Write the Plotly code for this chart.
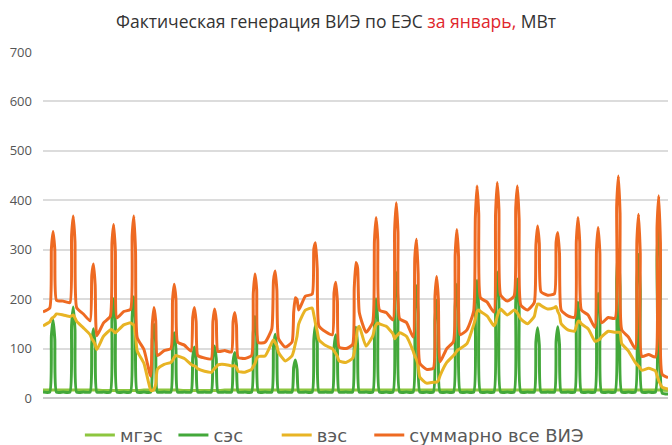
import plotly.graph_objects as go
from datetime import datetime, timedelta

# sample hours within each day of January
hours = [0, 8, 10, 12, 14, 16]
n_days = 31

# мгэс (small hydro), MW, one row per day at the hours above
mges = [
    [16, 16, 16, 16, 16, 16], [16, 16, 16, 16, 16, 16], [16, 16, 16, 16, 16, 16],
    [15, 15, 15, 15, 15, 15], [15, 15, 15, 15, 15, 15], [16, 16, 16, 16, 16, 16],
    [16, 16, 16, 16, 16, 16], [15, 15, 15, 15, 15, 15], [15, 15, 15, 15, 15, 15],
    [16, 16, 16, 16, 16, 16], [16, 16, 16, 16, 16, 16], [16, 16, 16, 16, 16, 16],
    [16, 16, 16, 16, 16, 16], [16, 16, 16, 16, 16, 16], [16, 16, 16, 16, 16, 16],
    [16, 16, 16, 16, 16, 16], [16, 16, 16, 16, 16, 16], [16, 16, 16, 16, 16, 16],
    [16, 16, 16, 16, 16, 16], [16, 16, 16, 16, 16, 16], [16, 16, 16, 16, 16, 16],
    [16, 16, 16, 16, 16, 16], [16, 16, 16, 16, 16, 16], [16, 16, 16, 16, 16, 16],
    [16, 16, 16, 16, 16, 16], [16, 16, 16, 16, 16, 16], [16, 16, 16, 16, 16, 16],
    [16, 16, 16, 16, 16, 16], [16, 16, 16, 16, 16, 16], [16, 16, 16, 16, 16, 16],
    [16, 16, 16, 16, 16, 16],
]

# сэс (solar)
ses = [
    [12, 12, 126, 158, 119, 12], [12, 12, 147, 184, 138, 12], [12, 12, 112, 140, 105, 12],
    [12, 12, 161, 201, 151, 12], [12, 12, 164, 205, 154, 12], [12, 12, 119, 149, 112, 12],
    [12, 12, 106, 132, 99, 12], [12, 12, 82, 103, 77, 12], [12, 12, 84, 105, 79, 12],
    [12, 12, 74, 92, 69, 12], [12, 12, 132, 165, 124, 12], [12, 12, 103, 129, 97, 12],
    [12, 12, 62, 77, 58, 12], [12, 12, 118, 148, 111, 12], [12, 12, 102, 128, 96, 12],
    [12, 12, 114, 143, 107, 12], [12, 12, 161, 201, 151, 12], [12, 12, 203, 254, 191, 12],
    [12, 12, 182, 227, 170, 12], [12, 12, 158, 198, 149, 12], [12, 12, 184, 230, 173, 12],
    [12, 12, 190, 238, 179, 12], [12, 12, 204, 255, 191, 12], [12, 12, 193, 241, 181, 12],
    [12, 12, 114, 142, 107, 12], [12, 12, 115, 144, 108, 12], [12, 12, 155, 194, 146, 12],
    [12, 12, 170, 212, 159, 12], [12, 12, 240, 300, 225, 12], [12, 12, 233, 291, 218, 12],
    [12, 12, 286, 358, 269, 10],
]

# вэс (wind)
ves = [
    [146, 154, 160, 163, 166, 170], [168, 165, 166, 168, 162, 155], [142, 128, 120, 115, 108, 98],
    [125, 138, 138, 135, 132, 135], [148, 152, 150, 148, 128, 95], [70, 16, 15, 18, 28, 58],
    [68, 72, 76, 82, 86, 85], [80, 68, 66, 65, 63, 59], [54, 52, 56, 60, 63, 67],
    [68, 65, 65, 65, 62, 54], [52, 58, 64, 70, 80, 84], [85, 112, 118, 112, 106, 92],
    [75, 85, 95, 110, 125, 150], [178, 182, 168, 150, 135, 118], [106, 100, 95, 90, 84, 75],
    [72, 80, 92, 115, 140, 145], [105, 125, 140, 148, 152, 150], [145, 130, 120, 125, 128, 132],
    [125, 95, 85, 78, 65, 42], [30, 32, 32, 32, 35, 45], [72, 86, 90, 95, 98, 100],
    [110, 148, 160, 175, 178, 175], [166, 146, 152, 165, 175, 180], [168, 178, 176, 172, 166, 160],
    [150, 165, 180, 190, 190, 187], [180, 183, 185, 175, 168, 150], [138, 135, 145, 155, 155, 150],
    [140, 115, 115, 117, 119, 124], [135, 133, 133, 133, 133, 110], [95, 72, 68, 65, 60, 56],
    [60, 55, 45, 35, 28, 22],
]

# суммарно все ВИЭ (total)
total = [
    [174, 182, 302, 337, 301, 198], [196, 193, 329, 368, 316, 183], [170, 156, 248, 271, 229, 126],
    [152, 165, 314, 351, 298, 162], [175, 179, 329, 368, 297, 122], [98, 44, 150, 183, 156, 86],
    [96, 100, 198, 230, 201, 113], [107, 95, 163, 183, 155, 86], [81, 79, 155, 180, 157, 94],
    [96, 93, 155, 173, 147, 82], [80, 86, 212, 251, 220, 112], [113, 140, 237, 257, 219, 120],
    [103, 113, 173, 203, 199, 178], [206, 210, 302, 314, 262, 146], [134, 128, 213, 234, 196, 103],
    [100, 108, 222, 274, 263, 173], [133, 153, 317, 365, 319, 178], [173, 158, 339, 395, 335, 160],
    [153, 123, 283, 321, 251, 70], [58, 60, 206, 246, 200, 73], [100, 114, 290, 341, 287, 128],
    [138, 176, 366, 429, 373, 203], [194, 174, 372, 436, 382, 208], [196, 206, 385, 429, 363, 188],
    [178, 193, 310, 348, 313, 215], [208, 211, 316, 335, 292, 178], [166, 163, 316, 365, 317, 178],
    [168, 143, 301, 345, 294, 152], [163, 161, 389, 449, 374, 138], [123, 100, 317, 372, 294, 84],
    [88, 83, 347, 409, 313, 48],
]

# final reading at the end of 31 January, 23:00
last_mges, last_ses, last_ves, last_total = 15, 8, 18, 41

series_names = ["мгэс", "сэс", "вэс", "суммарно все ВИЭ"]
# trailing no-break spaces only widen the legend entries to match the original spacing
legend_pad = [1, 5, 3, 0]
colors = ["#8dc63f", "#43a83a", "#e8b424", "#ee6a22"]

start = datetime(2024, 1, 1)
x = [start + timedelta(days=d, hours=h) for d in range(n_days) for h in hours]
x.append(start + timedelta(days=30, hours=23))


def flat(rows, last):
    out = [v for row in rows for v in row]
    out.append(last)
    return out


data = [flat(mges, last_mges), flat(ses, last_ses), flat(ves, last_ves), flat(total, last_total)]

fig = go.Figure()
for name, pad, ys, c in zip(series_names, legend_pad, data, colors):
    fig.add_trace(go.Scatter(
        x=x, y=ys, mode="lines", name=name + "\u00a0" * pad,
        line=dict(color=c, width=3, shape="spline", smoothing=0.5),
    ))

fig.update_layout(
    width=672, height=445,
    margin=dict(l=43, r=4, t=52, b=46.5, autoexpand=False),
    paper_bgcolor="white", plot_bgcolor="white",
    title=dict(
        text="Фактическая генерация ВИЭ по ЕЭС <span style='color:#e0262c'>за январь,</span> МВт",
        x=0.5, xanchor="center", y=1 - 22 / 445, yanchor="middle", yref="container",
        font=dict(family="Open Sans", size=17.5, color="#333333"),
    ),
    showlegend=True,
    legend=dict(
        orientation="h", x=0.059, xanchor="left", y=-0.108, yanchor="middle",
        font=dict(family="DejaVu Sans", size=18, color="#595959"),
        bgcolor="rgba(0,0,0,0)",
    ),
)
fig.update_xaxes(
    range=[x[0], x[-1]], showticklabels=False, showgrid=False, zeroline=False,
    showline=False, ticks="",
)
fig.update_yaxes(
    range=[0, 700], dtick=100, showgrid=True, gridcolor="#dcdcdc", gridwidth=1.5,
    zeroline=True, zerolinecolor="#c8c8c8", zerolinewidth=1.5,
    tickfont=dict(family="Open Sans", size=13, color="#555555"),
    ticklabelstandoff=10, automargin=False,
)

fig.write_html(
    "out.html",
    config={"displayModeBar": False},
    post_script="document.body.style.margin='0';document.body.style.overflow='hidden';",
)
